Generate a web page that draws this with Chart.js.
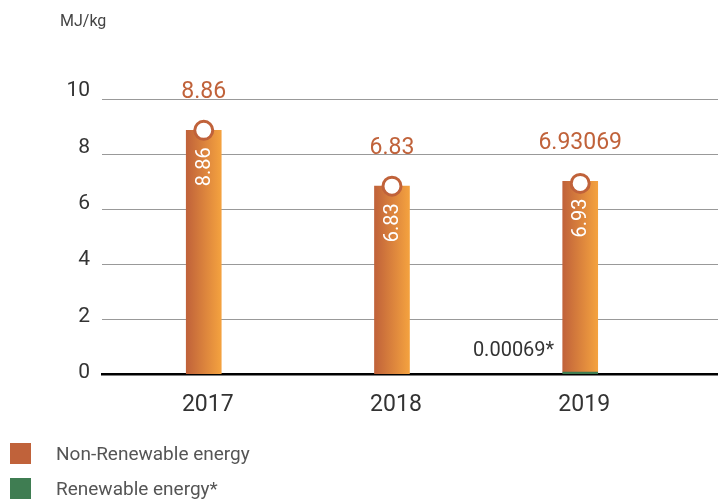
<!DOCTYPE html>
<html>
<head>
<meta charset="utf-8">
<script src="https://cdn.jsdelivr.net/npm/chart.js@4.4.1/dist/chart.umd.min.js"></script>
<style>
  body { margin: 0; background: #fff; font-family: Roboto, sans-serif; }
  #wrap { position: relative; width: 718px; height: 502px; }
  #unit { position: absolute; left: 60px; top: 11px; font-size: 16px; color: #444; }
  #legend { position: absolute; left: 10px; top: 443px; }
  .item { display: flex; align-items: center; height: 21px; margin-bottom: 14px; font-size: 19px; color: #555; }
  .swatch { width: 21px; height: 21px; margin-right: 25px; }
</style>
</head>
<body>
<div id="wrap">
  <canvas id="myChart" width="718" height="502"></canvas>
  <div id="unit">MJ/kg</div>
  <div id="legend"></div>
</div>
<script>
const years = ["2017", "2018", "2019"];
const nonRenewable = [8.86, 6.83, 6.93];
const renewable = [null, null, 0.00069];
const yTicks = [0, 2, 4, 6, 8, 10];

const orange = "#c0623a";
const orangeLight = "#f4a23f";
const green = "#3f7d52";

const totals = nonRenewable.map((v, i) => +(v + (renewable[i] || 0)).toFixed(5));

// each orange bar gets its own left-to-right gradient
function barGradient(ctx) {
  const chart = ctx.chart;
  if (!chart.chartArea || !chart.scales.x) return orange;
  const cx = chart.scales.x.getPixelForValue(ctx.dataIndex);
  const g = chart.ctx.createLinearGradient(cx - 17.5, 0, cx + 17.5, 0);
  g.addColorStop(0, orange);
  g.addColorStop(1, orangeLight);
  return g;
}

const valueLabels = {
  id: "valueLabels",
  afterDatasetsDraw(chart) {
    const c = chart.ctx;
    const bars = chart.getDatasetMeta(2).data;
    const greens = chart.getDatasetMeta(1).data;
    c.save();
    bars.forEach((el, i) => {
      // total above the bar
      c.font = "23px Roboto";
      c.fillStyle = orange;
      c.textAlign = "center";
      c.textBaseline = "middle";
      c.fillText(String(totals[i]), el.x, el.y - 38);

      // rotated value inside the bar
      c.save();
      c.translate(el.x, el.y + 17);
      c.rotate(-Math.PI / 2);
      c.font = "20px Roboto";
      c.fillStyle = "#fff";
      c.textAlign = "right";
      c.fillText(String(nonRenewable[i]), 0, 1);
      c.restore();

      if (renewable[i] != null) {
        const g = greens[i];
        c.font = "20px Roboto";
        c.fillStyle = "#333";
        c.textAlign = "right";
        c.fillText(renewable[i] + "*", g.x - 26, g.base - 23);
      }
    });
    c.restore();
  },
};

const ctx = document.getElementById("myChart");

new Chart(ctx, {
  data: {
    datasets: [
      {
        type: "line",
        label: "marker",
        data: totals.map((t, i) => ({ x: i, y: t })),
        showLine: false,
        pointRadius: 9,
        pointBorderWidth: 3,
        pointBackgroundColor: "#fff",
        pointBorderColor: orange,
        stack: "marker",
      },
      {
        type: "bar",
        label: "Renewable energy*",
        data: renewable.map((v, i) => ({ x: i, y: v })),
        backgroundColor: green,
        barThickness: 35,
        minBarLength: 2,
        stack: "energy",
      },
      {
        type: "bar",
        label: "Non-Renewable energy",
        data: nonRenewable.map((v, i) => ({ x: i, y: v })),
        backgroundColor: barGradient,
        barThickness: 35,
        stack: "energy",
      },
    ],
  },
  options: {
    responsive: false,
    animation: false,
    events: [],
    layout: { autoPadding: false, padding: { top: 71.5, left: 0, right: 0, bottom: 0 } },
    plugins: {
      legend: { display: false },
      tooltip: { enabled: false },
    },
    scales: {
      x: {
        type: "linear",
        stacked: true,
        offset: false,
        min: -0.5405,
        max: 2.732,
        afterBuildTicks: (s) => { s.ticks = years.map((_, i) => ({ value: i })); },
        afterFit: (s) => {
          s.height = 128;
          s.paddingLeft = 0;
          s.paddingRight = 0;
        },
        grid: { display: false, drawTicks: false },
        border: { display: true, color: "#000", width: 2.5 },
        ticks: {
          callback: (v) => years[v],
          font: { family: "Roboto", size: 23 },
          color: "#333",
          padding: 17,
          labelOffset: 4,
          maxRotation: 0,
        },
      },
      y: {
        stacked: true,
        min: 0,
        max: 11,
        afterBuildTicks: (s) => { s.ticks = yTicks.slice(1).map((v) => ({ value: v })); },
        afterFit: (s) => { s.width = 0; },
        grid: { color: "#999", lineWidth: 1, drawTicks: false },
        border: { display: false },
        ticks: { display: false },
      },
      yLabels: {
        position: "left",
        min: -0.0355,
        max: 10.69,
        afterBuildTicks: (s) => { s.ticks = yTicks.map((v) => ({ value: v })); },
        afterFit: (s) => { s.width = 102; },
        grid: { display: false, drawTicks: false },
        border: { display: false },
        ticks: {
          font: { family: "Roboto", size: 21 },
          color: "#333",
          padding: 12,
        },
      },
    },
  },
  plugins: [valueLabels],
});

// legend list below the chart, from the bar datasets
const legend = document.getElementById("legend");
[["Non-Renewable energy", orange], ["Renewable energy*", green]].forEach(([text, color]) => {
  const item = document.createElement("div");
  item.className = "item";
  item.innerHTML = '<span class="swatch" style="background:' + color + '"></span>' + text;
  legend.appendChild(item);
});
</script>
</body>
</html>
